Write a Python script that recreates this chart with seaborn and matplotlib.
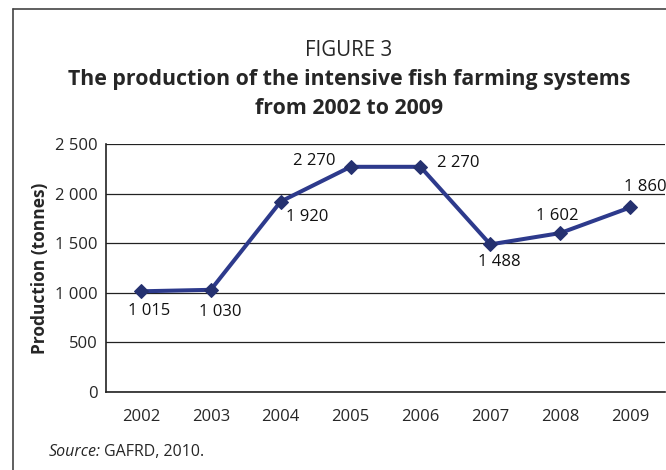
import numpy as np
import pandas as pd
import seaborn as sns
import matplotlib.pyplot as plt
from matplotlib.lines import Line2D

years = ["2002", "2003", "2004", "2005", "2006", "2007", "2008", "2009"]
production = [1015, 1030, 1920, 2270, 2270, 1488, 1602, 1860]
value_labels = ["1 015", "1 030", "1 920", "2 270", "2 270", "1 488", "1 602", "1 860"]
# offsets of the value labels, in points
label_offsets = [(6, -14), (6.5, -16), (19, -11), (-26, 4), (27, 3), (6.5, -13), (-2, 12), (11, 15)]
y_ticks = [0, 500, 1000, 1500, 2000, 2500]
y_tick_labels = ["0", "500", "1 000", "1 500", "2 000", "2 500"]

sns.set_style("white")
plt.rcParams["font.family"] = ["Open Sans", "DejaVu Sans"]

df = pd.DataFrame({"year": years, "production": production})

fig = plt.figure(figsize=(6.66, 4.70), dpi=100)
ax = fig.add_axes([106 / 666, 1 - 392 / 470, 559 / 666, 248 / 470])

sns.lineplot(data=df, x="year", y="production", ax=ax, color="#2d3a8c",
             linewidth=2.9, marker="D", markersize=7,
             markerfacecolor="#253170", markeredgecolor="#253170", zorder=3)

for i, (v, lab) in enumerate(zip(production, value_labels)):
    ax.annotate(lab, (i, v), xytext=label_offsets[i], textcoords="offset points",
                ha="center", va="center", fontsize=12, color="#111111")

ax.set_ylim(0, 2500)
ax.set_xlim(-0.41, 7.5)
ax.set_yticks(y_ticks)
ax.set_yticklabels(y_tick_labels, fontsize=12)
ax.set_xticks(np.arange(-0.5, 8, 1))
ax.set_xticklabels([])
ax.set_xticks(range(len(years)), minor=True)
ax.set_xticklabels(years, minor=True, fontsize=12)
ax.tick_params(axis="x", which="major", direction="out", length=5, width=1, color="#222222")
ax.tick_params(axis="x", which="minor", length=0, pad=12)
ax.tick_params(axis="y", direction="out", length=4, width=1, color="#222222", pad=2)
ax.yaxis.grid(True, color="#222222", linewidth=0.9)
ax.set_axisbelow(True)
for s in ["top", "right"]:
    ax.spines[s].set_visible(False)
for s in ["left", "bottom"]:
    ax.spines[s].set_color("#222222")
    ax.spines[s].set_linewidth(1.2)
ax.set_xlabel("")
ax.set_ylabel("Production (tonnes)", fontsize=12.5, fontweight="bold", labelpad=4)

# title block
tx = 349 / 666
fig.text(tx, 1 - 51 / 470, "FIGURE 3", ha="center", va="center", fontsize=14.8)
fig.text(tx, 1 - 79 / 470, "The production of the intensive fish farming systems",
         ha="center", va="center", fontsize=15.4, fontweight="bold")
fig.text(tx, 1 - 108 / 470, "from 2002 to 2009",
         ha="center", va="center", fontsize=15.4, fontweight="bold")
fig.text(49 / 666, 1 - 452 / 470, "Source:", ha="left", va="center", fontsize=11.5, style="italic")
fig.text(104 / 666, 1 - 452 / 470, "GAFRD, 2010.", ha="left", va="center", fontsize=11.5)

# frame around the figure
fig.add_artist(Line2D([12.5 / 666, 12.5 / 666], [0, 1 - 8.5 / 470], color="#444444", linewidth=1.2))
fig.add_artist(Line2D([12.5 / 666, 1], [1 - 8.5 / 470, 1 - 8.5 / 470], color="#444444", linewidth=1.2))

fig.savefig("out.png", dpi=100)
